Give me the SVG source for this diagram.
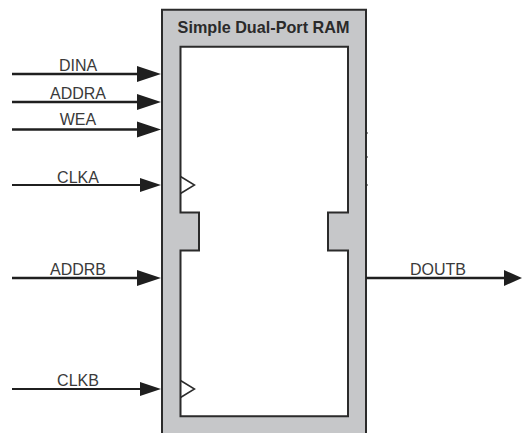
<svg xmlns="http://www.w3.org/2000/svg" width="522" height="433" viewBox="0 0 522 433">
<style>
text{font-family:"Liberation Sans",Arial,sans-serif;fill:#3a3a3a;font-size:16px;text-anchor:middle}
.title{font-weight:bold;font-size:16.2px;fill:#2a2a2a}
.w{stroke:#1f1f1f;stroke-width:2.6;fill:none}
.t{stroke:#1f1f1f;stroke-width:1.8;fill:none}
.h{fill:#1f1f1f}
.b{stroke:#2b2b2b;fill:none}
</style>
<rect width="522" height="433" fill="#fff"/>
<g id="ram">
<path d="M162 434V9.800H366V434" fill="#c6c7c9" stroke="#2b2b2b" stroke-width="2"/>
<path d="M180.500 46.800H348V212.500H328V250.500H348V416.300H180.500V250.500H199V212.500H180.500Z" fill="#fff" stroke="#2b2b2b" stroke-width="2"/>
<text class="title" x="263.500" y="32.500">Simple Dual-Port RAM</text>
<path class="b" style="stroke-width:1.500" d="M180.500 176.500L194.500 185L180.500 193.500"/>
<path class="b" style="stroke-width:1.500" d="M180.500 380.500L194.500 389L180.500 397.500"/>
<path class="b" style="stroke-width:1.200" d="M366 133H368M366 157H368M366 185H368"/>
</g>
<g id="connectors">
<path class="w" d="M12 74H140"/><path class="h" d="M137 66L161 74L137 82Z"/>
<path class="w" d="M12 102H140"/><path class="h" d="M137 94L161 102L137 110Z"/>
<path class="w" d="M12 129.500H140"/><path class="h" d="M137 121.500L161 129.500L137 137.500Z"/>
<path class="t" d="M12 185H142"/><path class="h" d="M140 178L161 185L140 192Z"/>
<path class="w" d="M12 278H140"/><path class="h" d="M137 270L161 278L137 286Z"/>
<path class="t" d="M12 389H142"/><path class="h" d="M140 382L161 389L140 396Z"/>
<path class="w" d="M366 278H506"/><path class="h" d="M504 270L522 278L504 286Z"/>
</g>
<g id="labels">
<text x="78" y="71">DINA</text>
<text x="78" y="98.500">ADDRA</text>
<text x="78" y="124.500">WEA</text>
<text x="78" y="182.500">CLKA</text>
<text x="78" y="275">ADDRB</text>
<text x="78" y="386">CLKB</text>
<text x="438" y="275">DOUTB</text>
</g>
</svg>
